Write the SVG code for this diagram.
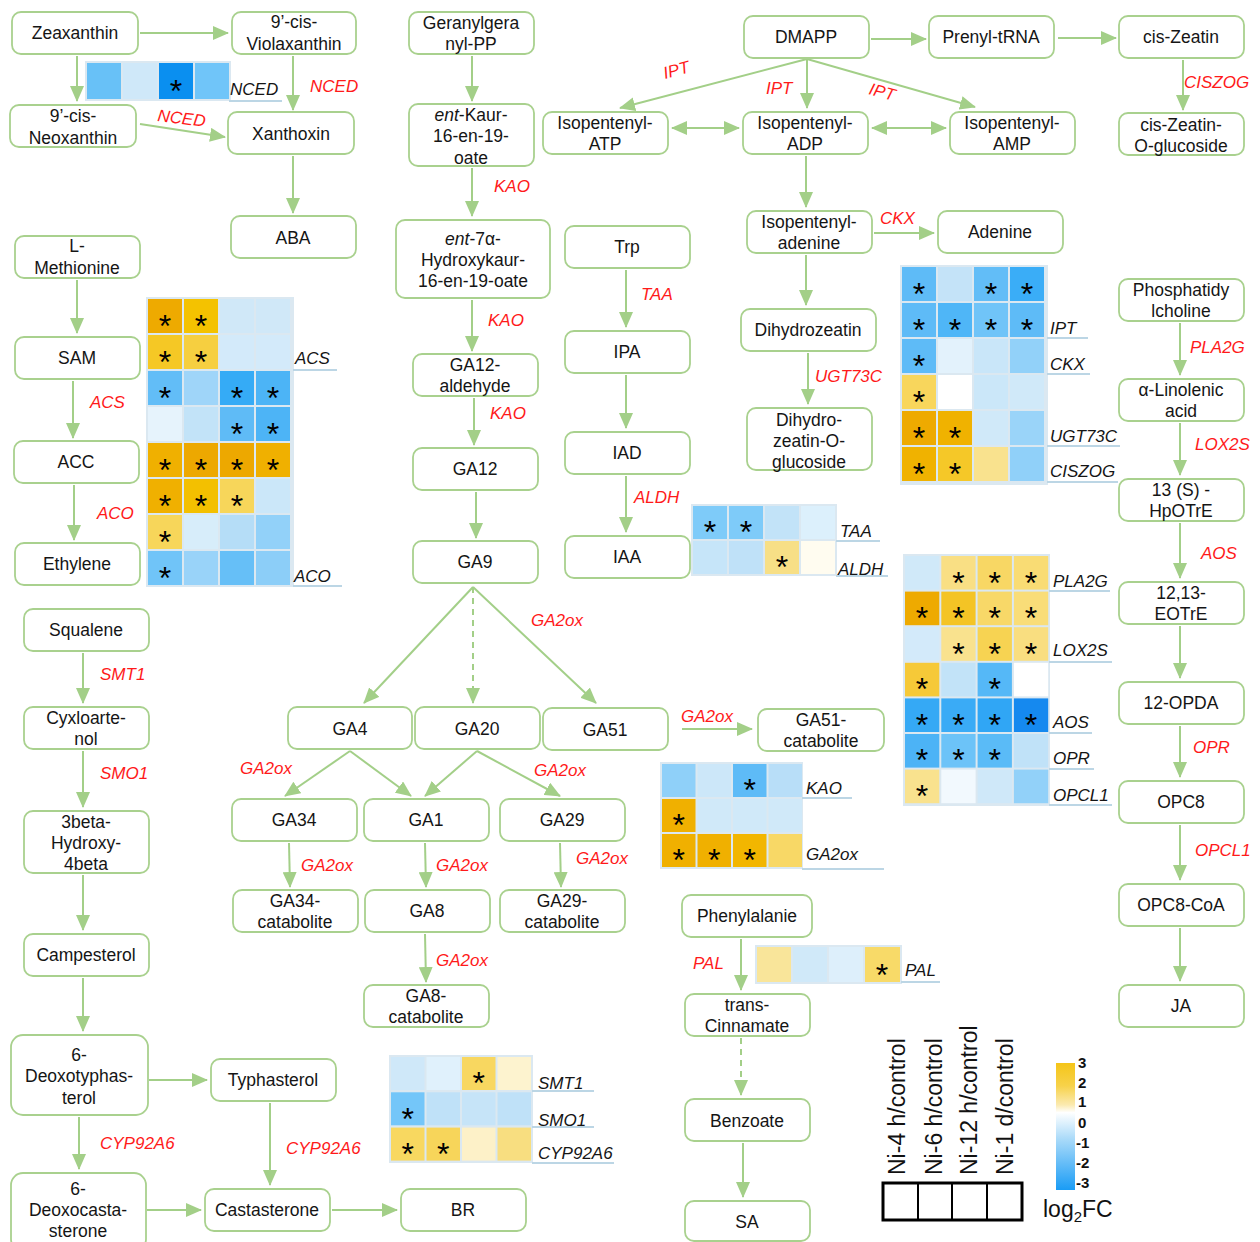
<svg xmlns="http://www.w3.org/2000/svg" width="1260" height="1242" viewBox="0 0 1260 1242">
<defs>
<style>
.n rect{fill:#fff;stroke:#a9d18e;stroke-width:1.8}
.n text,.t{font-family:"Liberation Sans",Arial,sans-serif;font-size:17.5px;fill:#151515;text-anchor:middle}
.r{font-family:"Liberation Sans",Arial,sans-serif;font-size:17px;font-style:italic;fill:#ff1a1a}
.g{font-family:"Liberation Sans",Arial,sans-serif;font-size:17px;font-style:italic;fill:#151515}
.s{font-family:"Liberation Sans",Arial,sans-serif;font-size:32px;fill:#000;text-anchor:middle;transform:translateY(3px)}
.bg{fill:#dbe8f1}
.ul{stroke:#bcd6e5;stroke-width:2}
#edges path{fill:none;stroke:#a3cf88;stroke-width:2;marker-end:url(#ah)}
#edges .d{stroke-dasharray:6 5}
#edges .bi{marker-start:url(#ahs)}
.lg{font-family:"Liberation Sans",Arial,sans-serif;font-size:23px;fill:#111}
.cb{font-family:"Liberation Sans",Arial,sans-serif;font-size:15px;font-weight:bold;fill:#111}
</style>
<marker id="ah" viewBox="0 0 16 14" refX="15" refY="7" markerWidth="16" markerHeight="14" markerUnits="userSpaceOnUse" orient="auto"><path d="M0,0 L16,7 L0,14 z" fill="#a3cf88"/></marker>
<marker id="ahs" viewBox="0 0 16 14" refX="15" refY="7" markerWidth="16" markerHeight="14" markerUnits="userSpaceOnUse" orient="auto-start-reverse"><path d="M0,0 L16,7 L0,14 z" fill="#a3cf88"/></marker>
<linearGradient id="cbar" x1="0" y1="0" x2="0" y2="1">
<stop offset="0" stop-color="#f5c518"/>
<stop offset="0.18" stop-color="#f7d24a"/>
<stop offset="0.33" stop-color="#fbeab0"/>
<stop offset="0.39" stop-color="#ffffff"/>
<stop offset="0.6" stop-color="#a9daf9"/>
<stop offset="1" stop-color="#1a9cf5"/>
</linearGradient>
</defs>
<rect width="1260" height="1242" fill="#fff"/>

<g id="edges">
<path d="M140,33 H228"/>
<path d="M77,56 V101"/>
<path d="M293,56 V110"/>
<path d="M140,124 L225,137"/>
<path d="M293,156 V213"/>
<path d="M77,280 V333"/>
<path d="M73,381 V438"/>
<path d="M74,485 V540"/>
<path d="M472,56 V101"/>
<path d="M472,168 V216"/>
<path d="M472,300 V351"/>
<path d="M474,398 V445"/>
<path d="M476,492 V538"/>
<path d="M473,587 L364,703"/>
<path class="d" d="M473,587 V703"/>
<path d="M473,587 L596,703"/>
<path d="M350,751 L285,796"/>
<path d="M350,751 L411,796"/>
<path d="M477,751 L425,796"/>
<path d="M477,751 L560,796"/>
<path d="M289,843 L290,887"/>
<path d="M425,843 L426,887"/>
<path d="M560,843 L561,887"/>
<path d="M425,934 L426,982"/>
<path d="M682,729 H752"/>
<path d="M871,39 H926"/>
<path d="M1058,38 H1116"/>
<path d="M1183,60 V110"/>
<path d="M807,59 L620,108"/>
<path d="M807,59 V108"/>
<path d="M807,59 L975,107"/>
<path class="bi" d="M672,128 H739"/>
<path class="bi" d="M872,128 H946"/>
<path d="M806,156 V207"/>
<path d="M874,233 H934"/>
<path d="M806,255 V305"/>
<path d="M808,353 V404"/>
<path d="M626,270 V327"/>
<path d="M626,375 V428"/>
<path d="M626,476 V532"/>
<path d="M1180,323 V375"/>
<path d="M1180,423 V475"/>
<path d="M1180,523 V578"/>
<path d="M1180,626 V678"/>
<path d="M1180,726 V777"/>
<path d="M1180,825 V880"/>
<path d="M1180,928 V981"/>
<path d="M83,653 V703"/>
<path d="M83,751 V807"/>
<path d="M83,875 V930"/>
<path d="M83,978 V1031"/>
<path d="M149,1080 H207"/>
<path d="M79,1117 V1169"/>
<path d="M270,1103 V1185"/>
<path d="M147,1210 H201"/>
<path d="M332,1210 H397"/>
<path d="M741,939 V990"/>
<path class="d" d="M741,1038 V1095"/>
<path d="M743,1143 V1197"/>
</g>

<g id="zea" class="n"><rect x="12" y="12" width="126" height="42" rx="9"/><text x="75" y="39">Zeaxanthin</text></g>
<g id="viola" class="n"><rect x="232" y="12" width="124" height="42" rx="9"/><text x="294" y="28">9’-cis-</text><text x="294" y="50">Violaxanthin</text></g>
<g id="neo" class="n"><rect x="10" y="105" width="126" height="42" rx="9"/><text x="73" y="122">9’-cis-</text><text x="73" y="144">Neoxanthin</text></g>
<g id="xan" class="n"><rect x="228" y="112" width="126" height="42" rx="9"/><text x="291" y="140">Xanthoxin</text></g>
<g id="aba" class="n"><rect x="231" y="216" width="125" height="42" rx="9"/><text x="293" y="244">ABA</text></g>
<g id="lmet" class="n"><rect x="15" y="236" width="125" height="42" rx="9"/><text x="77" y="252">L-</text><text x="77" y="274">Methionine</text></g>
<g id="sam" class="n"><rect x="15" y="337" width="125" height="42" rx="9"/><text x="77" y="364">SAM</text></g>
<g id="acc" class="n"><rect x="14" y="441" width="125" height="42" rx="9"/><text x="76" y="468">ACC</text></g>
<g id="eth" class="n"><rect x="15" y="543" width="125" height="42" rx="9"/><text x="77" y="570">Ethylene</text></g>
<g id="ggpp" class="n"><rect x="409" y="12" width="125" height="42" rx="9"/><text x="471" y="29">Geranylgera</text><text x="471" y="50">nyl-PP</text></g>
<g id="kaur" class="n"><rect x="409" y="104" width="125" height="62" rx="9"/><text x="471" y="121"><tspan font-style="italic">ent</tspan>-Kaur-</text><text x="471" y="142">16-en-19-</text><text x="471" y="164">oate</text></g>
<g id="hyd" class="n"><rect x="396" y="220" width="154" height="78" rx="9"/><text x="473" y="245"><tspan font-style="italic">ent</tspan>-7α-</text><text x="473" y="266">Hydroxykaur-</text><text x="473" y="287">16-en-19-oate</text></g>
<g id="ga12ald" class="n"><rect x="413" y="354" width="125" height="42" rx="9"/><text x="475" y="371">GA12-</text><text x="475" y="392">aldehyde</text></g>
<g id="ga12" class="n"><rect x="413" y="448" width="125" height="42" rx="9"/><text x="475" y="475">GA12</text></g>
<g id="ga9" class="n"><rect x="413" y="541" width="125" height="42" rx="9"/><text x="475" y="568">GA9</text></g>
<g id="ga4" class="n"><rect x="288" y="707" width="124" height="42" rx="9"/><text x="350" y="735">GA4</text></g>
<g id="ga20" class="n"><rect x="415" y="707" width="125" height="42" rx="9"/><text x="477" y="735">GA20</text></g>
<g id="ga51" class="n"><rect x="543" y="708" width="125" height="42" rx="9"/><text x="605" y="736">GA51</text></g>
<g id="ga34" class="n"><rect x="232" y="799" width="125" height="42" rx="9"/><text x="294" y="826">GA34</text></g>
<g id="ga1" class="n"><rect x="364" y="799" width="125" height="42" rx="9"/><text x="426" y="826">GA1</text></g>
<g id="ga29" class="n"><rect x="500" y="799" width="125" height="42" rx="9"/><text x="562" y="826">GA29</text></g>
<g id="ga34c" class="n"><rect x="233" y="890" width="125" height="42" rx="9"/><text x="295" y="907">GA34-</text><text x="295" y="928">catabolite</text></g>
<g id="ga8" class="n"><rect x="365" y="890" width="125" height="42" rx="9"/><text x="427" y="917">GA8</text></g>
<g id="ga29c" class="n"><rect x="500" y="890" width="125" height="42" rx="9"/><text x="562" y="907">GA29-</text><text x="562" y="928">catabolite</text></g>
<g id="ga8c" class="n"><rect x="364" y="985" width="125" height="42" rx="9"/><text x="426" y="1002">GA8-</text><text x="426" y="1023">catabolite</text></g>
<g id="ga51c" class="n"><rect x="758" y="709" width="126" height="42" rx="9"/><text x="821" y="726">GA51-</text><text x="821" y="747">catabolite</text></g>
<g id="dmapp" class="n"><rect x="744" y="16" width="125" height="42" rx="9"/><text x="806" y="43">DMAPP</text></g>
<g id="prenyl" class="n"><rect x="929" y="16" width="125" height="42" rx="9"/><text x="991" y="43">Prenyl-tRNA</text></g>
<g id="ciszea" class="n"><rect x="1119" y="16" width="125" height="42" rx="9"/><text x="1181" y="43">cis-Zeatin</text></g>
<g id="cisglu" class="n"><rect x="1119" y="113" width="125" height="42" rx="9"/><text x="1181" y="131">cis-Zeatin-</text><text x="1181" y="152">O-glucoside</text></g>
<g id="ipatp" class="n"><rect x="543" y="112" width="125" height="42" rx="9"/><text x="605" y="129">Isopentenyl-</text><text x="605" y="150">ATP</text></g>
<g id="ipadp" class="n"><rect x="743" y="112" width="125" height="42" rx="9"/><text x="805" y="129">Isopentenyl-</text><text x="805" y="150">ADP</text></g>
<g id="ipamp" class="n"><rect x="950" y="112" width="125" height="42" rx="9"/><text x="1012" y="129">Isopentenyl-</text><text x="1012" y="150">AMP</text></g>
<g id="ipade" class="n"><rect x="747" y="211" width="125" height="42" rx="9"/><text x="809" y="228">Isopentenyl-</text><text x="809" y="249">adenine</text></g>
<g id="adenine" class="n"><rect x="938" y="211" width="125" height="42" rx="9"/><text x="1000" y="238">Adenine</text></g>
<g id="dhz" class="n"><rect x="741" y="309" width="135" height="42" rx="9"/><text x="808" y="336">Dihydrozeatin</text></g>
<g id="dhzg" class="n"><rect x="747" y="408" width="125" height="62" rx="9"/><text x="809" y="426">Dihydro-</text><text x="809" y="447">zeatin-O-</text><text x="809" y="468">glucoside</text></g>
<g id="trp" class="n"><rect x="565" y="226" width="125" height="42" rx="9"/><text x="627" y="253">Trp</text></g>
<g id="ipa" class="n"><rect x="565" y="331" width="125" height="42" rx="9"/><text x="627" y="358">IPA</text></g>
<g id="iad" class="n"><rect x="565" y="432" width="125" height="42" rx="9"/><text x="627" y="459">IAD</text></g>
<g id="iaa" class="n"><rect x="565" y="536" width="125" height="42" rx="9"/><text x="627" y="563">IAA</text></g>
<g id="pc" class="n"><rect x="1119" y="279" width="125" height="42" rx="9"/><text x="1181" y="296">Phosphatidy</text><text x="1181" y="317">lcholine</text></g>
<g id="ala" class="n"><rect x="1119" y="379" width="125" height="42" rx="9"/><text x="1181" y="396">α-Linolenic</text><text x="1181" y="417">acid</text></g>
<g id="hpotre" class="n"><rect x="1119" y="479" width="125" height="42" rx="9"/><text x="1181" y="496">13 (S) -</text><text x="1181" y="517">HpOTrE</text></g>
<g id="eotre" class="n"><rect x="1119" y="582" width="125" height="42" rx="9"/><text x="1181" y="599">12,13-</text><text x="1181" y="620">EOTrE</text></g>
<g id="opda" class="n"><rect x="1119" y="682" width="125" height="42" rx="9"/><text x="1181" y="709">12-OPDA</text></g>
<g id="opc8" class="n"><rect x="1119" y="781" width="125" height="42" rx="9"/><text x="1181" y="808">OPC8</text></g>
<g id="opc8coa" class="n"><rect x="1119" y="884" width="125" height="42" rx="9"/><text x="1181" y="911">OPC8-CoA</text></g>
<g id="ja" class="n"><rect x="1119" y="985" width="125" height="42" rx="9"/><text x="1181" y="1012">JA</text></g>
<g id="squal" class="n"><rect x="24" y="609" width="125" height="42" rx="9"/><text x="86" y="636">Squalene</text></g>
<g id="cyclo" class="n"><rect x="24" y="707" width="125" height="42" rx="9"/><text x="86" y="724">Cyxloarte-</text><text x="86" y="745">nol</text></g>
<g id="hydroxy" class="n"><rect x="24" y="811" width="125" height="62" rx="9"/><text x="86" y="828">3beta-</text><text x="86" y="849">Hydroxy-</text><text x="86" y="870">4beta</text></g>
<g id="campe" class="n"><rect x="24" y="934" width="125" height="42" rx="9"/><text x="86" y="961">Campesterol</text></g>
<g id="deoxotyph" class="n"><rect x="11" y="1035" width="137" height="80" rx="12"/><text x="79" y="1061">6-</text><text x="79" y="1082">Deoxotyphas-</text><text x="79" y="1104">terol</text></g>
<g id="typh" class="n"><rect x="211" y="1059" width="125" height="42" rx="9"/><text x="273" y="1086">Typhasterol</text></g>
<g id="deoxocast" class="n"><rect x="11" y="1173" width="135" height="78" rx="12"/><text x="78" y="1195">6-</text><text x="78" y="1216">Deoxocasta-</text><text x="78" y="1237">sterone</text></g>
<g id="cast" class="n"><rect x="205" y="1189" width="125" height="42" rx="9"/><text x="267" y="1216">Castasterone</text></g>
<g id="br" class="n"><rect x="401" y="1189" width="125" height="42" rx="9"/><text x="463" y="1216">BR</text></g>
<g id="phe" class="n"><rect x="682" y="895" width="130" height="42" rx="9"/><text x="747" y="922">Phenylalanie</text></g>
<g id="cinn" class="n"><rect x="685" y="994" width="125" height="42" rx="9"/><text x="747" y="1011">trans-</text><text x="747" y="1032">Cinnamate</text></g>
<g id="benz" class="n"><rect x="685" y="1099" width="125" height="42" rx="9"/><text x="747" y="1127">Benzoate</text></g>
<g id="sa" class="n"><rect x="685" y="1201" width="125" height="40" rx="9"/><text x="747" y="1228">SA</text></g>

<g id="enzymes">
<text class="r" x="310" y="92">NCED</text>
<text class="r" x="157" y="121" transform="rotate(7 157 121)">NCED</text>
<text class="r" x="90" y="408">ACS</text>
<text class="r" x="97" y="519">ACO</text>
<text class="r" x="494" y="192">KAO</text>
<text class="r" x="488" y="326">KAO</text>
<text class="r" x="490" y="419">KAO</text>
<text class="r" x="641" y="300">TAA</text>
<text class="r" x="634" y="503">ALDH</text>
<text class="r" x="665" y="79" transform="rotate(-15 665 79)">IPT</text>
<text class="r" x="766" y="94">IPT</text>
<text class="r" x="868" y="94" transform="rotate(15 868 94)">IPT</text>
<text class="r" x="880" y="224">CKX</text>
<text class="r" x="815" y="382">UGT73C</text>
<text class="r" x="1184" y="88">CISZOG</text>
<text class="r" x="1190" y="353">PLA2G</text>
<text class="r" x="1195" y="450">LOX2S</text>
<text class="r" x="1201" y="559">AOS</text>
<text class="r" x="1193" y="753">OPR</text>
<text class="r" x="1195" y="856">OPCL1</text>
<text class="r" x="531" y="626">GA2ox</text>
<text class="r" x="240" y="774">GA2ox</text>
<text class="r" x="534" y="776">GA2ox</text>
<text class="r" x="301" y="871">GA2ox</text>
<text class="r" x="436" y="871">GA2ox</text>
<text class="r" x="576" y="864">GA2ox</text>
<text class="r" x="436" y="966">GA2ox</text>
<text class="r" x="681" y="722">GA2ox</text>
<text class="r" x="100" y="680">SMT1</text>
<text class="r" x="100" y="779" font-size="15">SMO1</text>
<text class="r" x="100" y="1149">CYP92A6</text>
<text class="r" x="286" y="1154">CYP92A6</text>
<text class="r" x="693" y="969">PAL</text>
</g>

<g id="hm-nced">
<rect class="bg" x="85" y="61" width="146" height="40"/>
<rect x="87" y="63" width="34" height="36" fill="#68c1f7"/>
<rect x="123" y="63" width="34" height="36" fill="#cfe8f9"/>
<rect x="159" y="63" width="34" height="36" fill="#0a8ff0"/>
<rect x="195" y="63" width="34" height="36" fill="#70c5f9"/>
<text class="s" x="176" y="99">*</text>
<line class="ul" x1="229" y1="101" x2="282" y2="101"/>
<text class="g" x="230" y="95">NCED</text>
</g>

<g id="hm-acs">
<rect class="bg" x="146" y="297" width="148" height="290"/>
<rect x="148" y="299" width="34" height="34" fill="#eeaa00"/><rect x="184" y="299" width="34" height="34" fill="#f4c200"/><rect x="220" y="299" width="34" height="34" fill="#d0e8f8"/><rect x="256" y="299" width="34" height="34" fill="#d0e8f8"/>
<rect x="148" y="335" width="34" height="34" fill="#f5c825"/><rect x="184" y="335" width="34" height="34" fill="#f6cf40"/><rect x="220" y="335" width="34" height="34" fill="#d3eafa"/><rect x="256" y="335" width="34" height="34" fill="#d3eafa"/>
<rect x="148" y="371" width="34" height="34" fill="#62bdf7"/><rect x="184" y="371" width="34" height="34" fill="#9fd5f9"/><rect x="220" y="371" width="34" height="34" fill="#35abf6"/><rect x="256" y="371" width="34" height="34" fill="#4cb4f6"/>
<rect x="148" y="407" width="34" height="34" fill="#e6f3fc"/><rect x="184" y="407" width="34" height="34" fill="#c2e3f8"/><rect x="220" y="407" width="34" height="34" fill="#5fbbf6"/><rect x="256" y="407" width="34" height="34" fill="#4db4f6"/>
<rect x="148" y="443" width="34" height="34" fill="#f0b000"/><rect x="184" y="443" width="34" height="34" fill="#eda800"/><rect x="220" y="443" width="34" height="34" fill="#eda800"/><rect x="256" y="443" width="34" height="34" fill="#f0b000"/>
<rect x="148" y="479" width="34" height="34" fill="#f0b000"/><rect x="184" y="479" width="34" height="34" fill="#f3c000"/><rect x="220" y="479" width="34" height="34" fill="#f7d65a"/><rect x="256" y="479" width="34" height="34" fill="#cbe7f9"/>
<rect x="148" y="515" width="34" height="34" fill="#f7d65a"/><rect x="184" y="515" width="34" height="34" fill="#d7edfa"/><rect x="220" y="515" width="34" height="34" fill="#b5ddf7"/><rect x="256" y="515" width="34" height="34" fill="#92d1f9"/>
<rect x="148" y="551" width="34" height="34" fill="#70c4f8"/><rect x="184" y="551" width="34" height="34" fill="#99d3f9"/><rect x="220" y="551" width="34" height="34" fill="#66bff7"/><rect x="256" y="551" width="34" height="34" fill="#8ccef8"/>
<text class="s" x="165" y="334">*</text><text class="s" x="201" y="334">*</text>
<text class="s" x="165" y="370">*</text><text class="s" x="201" y="370">*</text>
<text class="s" x="165" y="406">*</text><text class="s" x="237" y="406">*</text><text class="s" x="273" y="406">*</text>
<text class="s" x="237" y="442">*</text><text class="s" x="273" y="442">*</text>
<text class="s" x="165" y="478">*</text><text class="s" x="201" y="478">*</text><text class="s" x="237" y="478">*</text><text class="s" x="273" y="478">*</text>
<text class="s" x="165" y="514">*</text><text class="s" x="201" y="514">*</text><text class="s" x="237" y="514">*</text>
<text class="s" x="165" y="550">*</text>
<text class="s" x="165" y="586">*</text>
<line class="ul" x1="293" y1="370" x2="337" y2="370"/>
<line class="ul" x1="293" y1="586" x2="342" y2="586"/>
<text class="g" x="295" y="364">ACS</text>
<text class="g" x="294" y="582">ACO</text>
</g>

<g id="hm-ck">
<rect class="bg" x="900" y="265" width="148" height="220"/>
<rect x="902" y="267" width="34" height="34" fill="#5ebbf7"/><rect x="938" y="267" width="34" height="34" fill="#c4e3f8"/><rect x="974" y="267" width="34" height="34" fill="#62bdf7"/><rect x="1010" y="267" width="34" height="34" fill="#3aadf7"/>
<rect x="902" y="303" width="34" height="34" fill="#5ebbf7"/><rect x="938" y="303" width="34" height="34" fill="#4fb6f7"/><rect x="974" y="303" width="34" height="34" fill="#70c4f8"/><rect x="1010" y="303" width="34" height="34" fill="#5ebbf7"/>
<rect x="902" y="339" width="34" height="34" fill="#5ebbf7"/><rect x="938" y="339" width="34" height="34" fill="#e3f2fc"/><rect x="974" y="339" width="34" height="34" fill="#c9e6f9"/><rect x="1010" y="339" width="34" height="34" fill="#92d1f9"/>
<rect x="902" y="375" width="34" height="34" fill="#f8d65c"/><rect x="938" y="375" width="34" height="34" fill="#ffffff"/><rect x="974" y="375" width="34" height="34" fill="#cbe7f9"/><rect x="1010" y="375" width="34" height="34" fill="#d0e9f9"/>
<rect x="902" y="411" width="34" height="34" fill="#eeaa00"/><rect x="938" y="411" width="34" height="34" fill="#f0b200"/><rect x="974" y="411" width="34" height="34" fill="#d0e9f9"/><rect x="1010" y="411" width="34" height="34" fill="#9ad4f9"/>
<rect x="902" y="447" width="34" height="34" fill="#f0b200"/><rect x="938" y="447" width="34" height="34" fill="#f5c828"/><rect x="974" y="447" width="34" height="34" fill="#f9e28e"/><rect x="1010" y="447" width="34" height="34" fill="#90d0f9"/>
<text class="s" x="919" y="302">*</text><text class="s" x="991" y="302">*</text><text class="s" x="1027" y="302">*</text>
<text class="s" x="919" y="338">*</text><text class="s" x="955" y="338">*</text><text class="s" x="991" y="338">*</text><text class="s" x="1027" y="338">*</text>
<text class="s" x="919" y="374">*</text>
<text class="s" x="919" y="410">*</text>
<text class="s" x="919" y="446">*</text><text class="s" x="955" y="446">*</text>
<text class="s" x="919" y="482">*</text><text class="s" x="955" y="482">*</text>
<line class="ul" x1="1047" y1="338" x2="1088" y2="338"/>
<line class="ul" x1="1047" y1="374" x2="1090" y2="374"/>
<line class="ul" x1="1047" y1="446" x2="1120" y2="446"/>
<line class="ul" x1="1047" y1="482" x2="1118" y2="482"/>
<text class="g" x="1050" y="334">IPT</text>
<text class="g" x="1050" y="370">CKX</text>
<text class="g" x="1050" y="442">UGT73C</text>
<text class="g" x="1050" y="477">CISZOG</text>
</g>

<g id="hm-ja">
<rect class="bg" x="903" y="554" width="147" height="252"/>
<rect x="905" y="556" width="34.3" height="33.6" fill="#d0e9f9"/><rect x="941.3" y="556" width="34.3" height="33.6" fill="#f9df84"/><rect x="977.6" y="556" width="34.3" height="33.6" fill="#f8d764"/><rect x="1013.9" y="556" width="34.3" height="33.6" fill="#f9dc74"/>
<rect x="905" y="591.6" width="34.3" height="33.6" fill="#eeaa00"/><rect x="941.3" y="591.6" width="34.3" height="33.6" fill="#f4c425"/><rect x="977.6" y="591.6" width="34.3" height="33.6" fill="#f8d868"/><rect x="1013.9" y="591.6" width="34.3" height="33.6" fill="#f9dd78"/>
<rect x="905" y="627.2" width="34.3" height="33.6" fill="#d3eafa"/><rect x="941.3" y="627.2" width="34.3" height="33.6" fill="#f9e28e"/><rect x="977.6" y="627.2" width="34.3" height="33.6" fill="#f7d352"/><rect x="1013.9" y="627.2" width="34.3" height="33.6" fill="#f9de80"/>
<rect x="905" y="662.8" width="34.3" height="33.6" fill="#f6c938"/><rect x="941.3" y="662.8" width="34.3" height="33.6" fill="#c2e3f8"/><rect x="977.6" y="662.8" width="34.3" height="33.6" fill="#55b8f7"/><rect x="1013.9" y="662.8" width="34.3" height="33.6" fill="#ffffff"/>
<rect x="905" y="698.4" width="34.3" height="33.6" fill="#35a9f5"/><rect x="941.3" y="698.4" width="34.3" height="33.6" fill="#3aabf6"/><rect x="977.6" y="698.4" width="34.3" height="33.6" fill="#30a6f5"/><rect x="1013.9" y="698.4" width="34.3" height="33.6" fill="#1589ef"/>
<rect x="905" y="734" width="34.3" height="33.6" fill="#4cb3f6"/><rect x="941.3" y="734" width="34.3" height="33.6" fill="#6cc3f8"/><rect x="977.6" y="734" width="34.3" height="33.6" fill="#5abbf7"/><rect x="1013.9" y="734" width="34.3" height="33.6" fill="#c0e2f8"/>
<rect x="905" y="769.6" width="34.3" height="33.6" fill="#f9e28e"/><rect x="941.3" y="769.6" width="34.3" height="33.6" fill="#f2f9fe"/><rect x="977.6" y="769.6" width="34.3" height="33.6" fill="#cfe8f9"/><rect x="1013.9" y="769.6" width="34.3" height="33.6" fill="#92d1f9"/>
<text class="s" x="958.5" y="591">*</text><text class="s" x="994.8" y="591">*</text><text class="s" x="1031" y="591">*</text>
<text class="s" x="922" y="626">*</text><text class="s" x="958.5" y="626">*</text><text class="s" x="994.8" y="626">*</text><text class="s" x="1031" y="626">*</text>
<text class="s" x="958.5" y="662">*</text><text class="s" x="994.8" y="662">*</text><text class="s" x="1031" y="662">*</text>
<text class="s" x="922" y="697">*</text><text class="s" x="994.8" y="697">*</text>
<text class="s" x="922" y="733">*</text><text class="s" x="958.5" y="733">*</text><text class="s" x="994.8" y="733">*</text><text class="s" x="1031" y="733">*</text>
<text class="s" x="922" y="768">*</text><text class="s" x="958.5" y="768">*</text><text class="s" x="994.8" y="768">*</text>
<text class="s" x="922" y="804">*</text>
<line class="ul" x1="1049" y1="591" x2="1110" y2="591"/>
<line class="ul" x1="1049" y1="662" x2="1112" y2="662"/>
<line class="ul" x1="1049" y1="733" x2="1092" y2="733"/>
<line class="ul" x1="1049" y1="769" x2="1094" y2="769"/>
<line class="ul" x1="1049" y1="805" x2="1112" y2="805"/>
<text class="g" x="1053" y="587">PLA2G</text>
<text class="g" x="1053" y="656">LOX2S</text>
<text class="g" x="1053" y="728">AOS</text>
<text class="g" x="1053" y="764">OPR</text>
<text class="g" x="1053" y="801">OPCL1</text>
</g>

<g id="hm-taa">
<rect class="bg" x="691" y="504" width="146" height="72"/>
<rect x="693" y="506" width="34" height="33" fill="#7ecbf9"/><rect x="729" y="506" width="34" height="33" fill="#7ecbf9"/><rect x="765" y="506" width="34" height="33" fill="#c2e3f8"/><rect x="801" y="506" width="34" height="33" fill="#dcf0fc"/>
<rect x="693" y="541" width="34" height="33" fill="#c6e5f9"/><rect x="729" y="541" width="34" height="33" fill="#bfe1f8"/><rect x="765" y="541" width="34" height="33" fill="#f7df86"/><rect x="801" y="541" width="34" height="33" fill="#fffcf0"/>
<text class="s" x="710" y="540">*</text><text class="s" x="746" y="540">*</text>
<text class="s" x="782" y="575">*</text>
<line class="ul" x1="836" y1="541" x2="880" y2="541"/>
<line class="ul" x1="836" y1="576" x2="888" y2="576"/>
<text class="g" x="840" y="537">TAA</text>
<text class="g" x="838" y="575">ALDH</text>
</g>

<g id="hm-ga">
<rect class="bg" x="660" y="762" width="143" height="107"/>
<rect x="662" y="764" width="33.5" height="33" fill="#8fd0f9"/><rect x="697.5" y="764" width="33.5" height="33" fill="#cce7f9"/><rect x="733" y="764" width="33.5" height="33" fill="#5ebbf7"/><rect x="768.5" y="764" width="33.5" height="33" fill="#b8def8"/>
<rect x="662" y="799" width="33.5" height="33" fill="#f0b000"/><rect x="697.5" y="799" width="33.5" height="33" fill="#d0e9f9"/><rect x="733" y="799" width="33.5" height="33" fill="#d0e9f9"/><rect x="768.5" y="799" width="33.5" height="33" fill="#d0e9f9"/>
<rect x="662" y="834" width="33.5" height="33" fill="#f0b000"/><rect x="697.5" y="834" width="33.5" height="33" fill="#f0b000"/><rect x="733" y="834" width="33.5" height="33" fill="#f2b600"/><rect x="768.5" y="834" width="33.5" height="33" fill="#f8d866"/>
<text class="s" x="749.8" y="798">*</text>
<text class="s" x="678.8" y="833">*</text>
<text class="s" x="678.8" y="868">*</text><text class="s" x="714.3" y="868">*</text><text class="s" x="749.8" y="868">*</text>
<line class="ul" x1="802" y1="798" x2="852" y2="798"/>
<line class="ul" x1="802" y1="869" x2="884" y2="869"/>
<text class="g" x="806" y="794">KAO</text>
<text class="g" x="806" y="860">GA2ox</text>
</g>

<g id="hm-pal">
<rect class="bg" x="755" y="945" width="147" height="39"/>
<rect x="757" y="947" width="34" height="35" fill="#f9e59a"/><rect x="793" y="947" width="34" height="35" fill="#d0e9f9"/><rect x="829" y="947" width="34" height="35" fill="#ddeffb"/><rect x="865" y="947" width="35" height="35" fill="#f8da68"/>
<text class="s" x="882" y="983">*</text>
<line class="ul" x1="901" y1="982" x2="940" y2="982"/>
<text class="g" x="905" y="976">PAL</text>
</g>

<g id="hm-br">
<rect class="bg" x="389" y="1055" width="144" height="108"/>
<rect x="391" y="1057" width="33.5" height="33" fill="#cfe8f9"/><rect x="426.5" y="1057" width="33.5" height="33" fill="#e0f1fc"/><rect x="462" y="1057" width="33.5" height="33" fill="#f8d760"/><rect x="497.5" y="1057" width="33.5" height="33" fill="#fdf3cf"/>
<rect x="391" y="1092.3" width="33.5" height="33" fill="#74c6f9"/><rect x="426.5" y="1092.3" width="33.5" height="33" fill="#bfe1f8"/><rect x="462" y="1092.3" width="33.5" height="33" fill="#c6e4f8"/><rect x="497.5" y="1092.3" width="33.5" height="33" fill="#bfe1f8"/>
<rect x="391" y="1127.6" width="33.5" height="33" fill="#f8d860"/><rect x="426.5" y="1127.6" width="33.5" height="33" fill="#f7d55a"/><rect x="462" y="1127.6" width="33.5" height="33" fill="#fdf1c8"/><rect x="497.5" y="1127.6" width="33.5" height="33" fill="#f8de80"/>
<text class="s" x="478.8" y="1091">*</text>
<text class="s" x="407.8" y="1127">*</text>
<text class="s" x="407.8" y="1162">*</text><text class="s" x="443.3" y="1162">*</text>
<line class="ul" x1="532" y1="1091" x2="594" y2="1091"/>
<line class="ul" x1="532" y1="1127" x2="594" y2="1127"/>
<line class="ul" x1="532" y1="1163" x2="614" y2="1163"/>
<text class="g" x="538" y="1089">SMT1</text>
<text class="g" x="538" y="1126">SMO1</text>
<text class="g" x="538" y="1159">CYP92A6</text>
</g>

<g id="legend">
<rect x="883" y="1183" width="139" height="37" fill="#fff" stroke="#000" stroke-width="3"/>
<line x1="918" y1="1183" x2="918" y2="1220" stroke="#000" stroke-width="2"/>
<line x1="952" y1="1183" x2="952" y2="1220" stroke="#000" stroke-width="2"/>
<line x1="987" y1="1183" x2="987" y2="1220" stroke="#000" stroke-width="2"/>
<text class="lg" transform="translate(905 1175) rotate(-90)">Ni-4 h/control</text>
<text class="lg" transform="translate(942 1175) rotate(-90)">Ni-6 h/control</text>
<text class="lg" transform="translate(977 1175) rotate(-90)">Ni-12 h/control</text>
<text class="lg" transform="translate(1013 1175) rotate(-90)">Ni-1  d/control</text>
<rect x="1056" y="1063" width="19" height="127" fill="url(#cbar)"/>
<text class="cb" x="1078" y="1068">3</text>
<text class="cb" x="1078" y="1088">2</text>
<text class="cb" x="1078" y="1107">1</text>
<text class="cb" x="1078" y="1128">0</text>
<text class="cb" x="1076" y="1148">-1</text>
<text class="cb" x="1076" y="1168">-2</text>
<text class="cb" x="1076" y="1188">-3</text>
<text class="lg" x="1043" y="1217">log<tspan font-size="15" dy="5">2</tspan><tspan dy="-5">FC</tspan></text>
</g>
</svg>
